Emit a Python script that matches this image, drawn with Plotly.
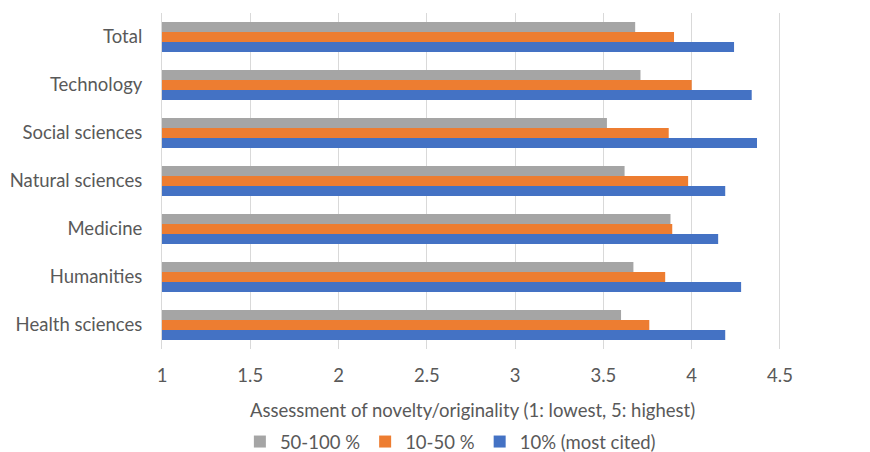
import plotly.graph_objects as go

categories = ["Health sciences", "Humanities", "Medicine", "Natural sciences",
              "Social sciences", "Technology", "Total"]
top10 = [4.19, 4.28, 4.15, 4.19, 4.37, 4.34, 4.24]
mid10_50 = [3.76, 3.85, 3.89, 3.98, 3.87, 4.00, 3.90]
low50_100 = [3.60, 3.67, 3.88, 3.62, 3.52, 3.71, 3.68]
x_ticks = [1, 1.5, 2, 2.5, 3, 3.5, 4, 4.5, 5]
x_tick_labels = ["1", "1.5", "2", "2.5", "3", "3.5", "4", "4.5", "5"]
x_title = "Assessment of novelty/originality (1: lowest, 5: highest)"

FONT = "Lato, 'Liberation Sans', sans-serif"
TXT = "#595959"
FS = 18.5

fig = go.Figure()
fig.add_trace(go.Bar(y=categories, x=top10, name="10% (most cited)", orientation="h",
                     marker=dict(color="#4472C4", line_width=0)))
fig.add_trace(go.Bar(y=categories, x=mid10_50, name="10-50 %", orientation="h",
                     marker=dict(color="#ED7D31", line_width=0)))
fig.add_trace(go.Bar(y=categories, x=low50_100, name="50-100 %", orientation="h",
                     marker=dict(color="#A5A5A5", line_width=0)))

fig.update_layout(
    template="none",
    width=862, height=444,
    margin=dict(l=154, r=0, t=5, b=103),
    barmode="group",
    bargap=0.375,
    bargroupgap=0,
    plot_bgcolor="white",
    paper_bgcolor="white",
    font=dict(family=FONT, color=TXT, size=FS),
    legend=dict(orientation="h", traceorder="reversed", x=0.11, xanchor="left",
                xref="paper", yref="container", y=0.0225, yanchor="middle",
                font=dict(size=FS, color=TXT, family=FONT), itemwidth=30),
    showlegend=True,
    annotations=[dict(text=x_title, xref="paper", yref="paper", x=0.439, y=-0.1815,
                      xanchor="center", yanchor="middle", showarrow=False,
                      font=dict(size=FS, color=TXT, family=FONT))],
)
fig.update_xaxes(
    range=[1, 5.01], tickvals=x_ticks, ticktext=x_tick_labels,
    showgrid=True, gridcolor="#D9D9D9", gridwidth=1,
    zeroline=False, showline=False, ticks="",
    ticklabelstandoff=13, ticklabeloverflow="allow",
    tickfont=dict(size=FS, color=TXT, family=FONT),
    automargin=False,
)
fig.update_yaxes(
    categoryorder="array", categoryarray=categories,
    showgrid=False, zeroline=False,
    showline=True, linecolor="#D9D9D9", linewidth=1,
    ticks="", ticklabelstandoff=15,
    tickfont=dict(size=FS, color=TXT, family=FONT),
    automargin=False,
)

fig.write_html("out.html")
